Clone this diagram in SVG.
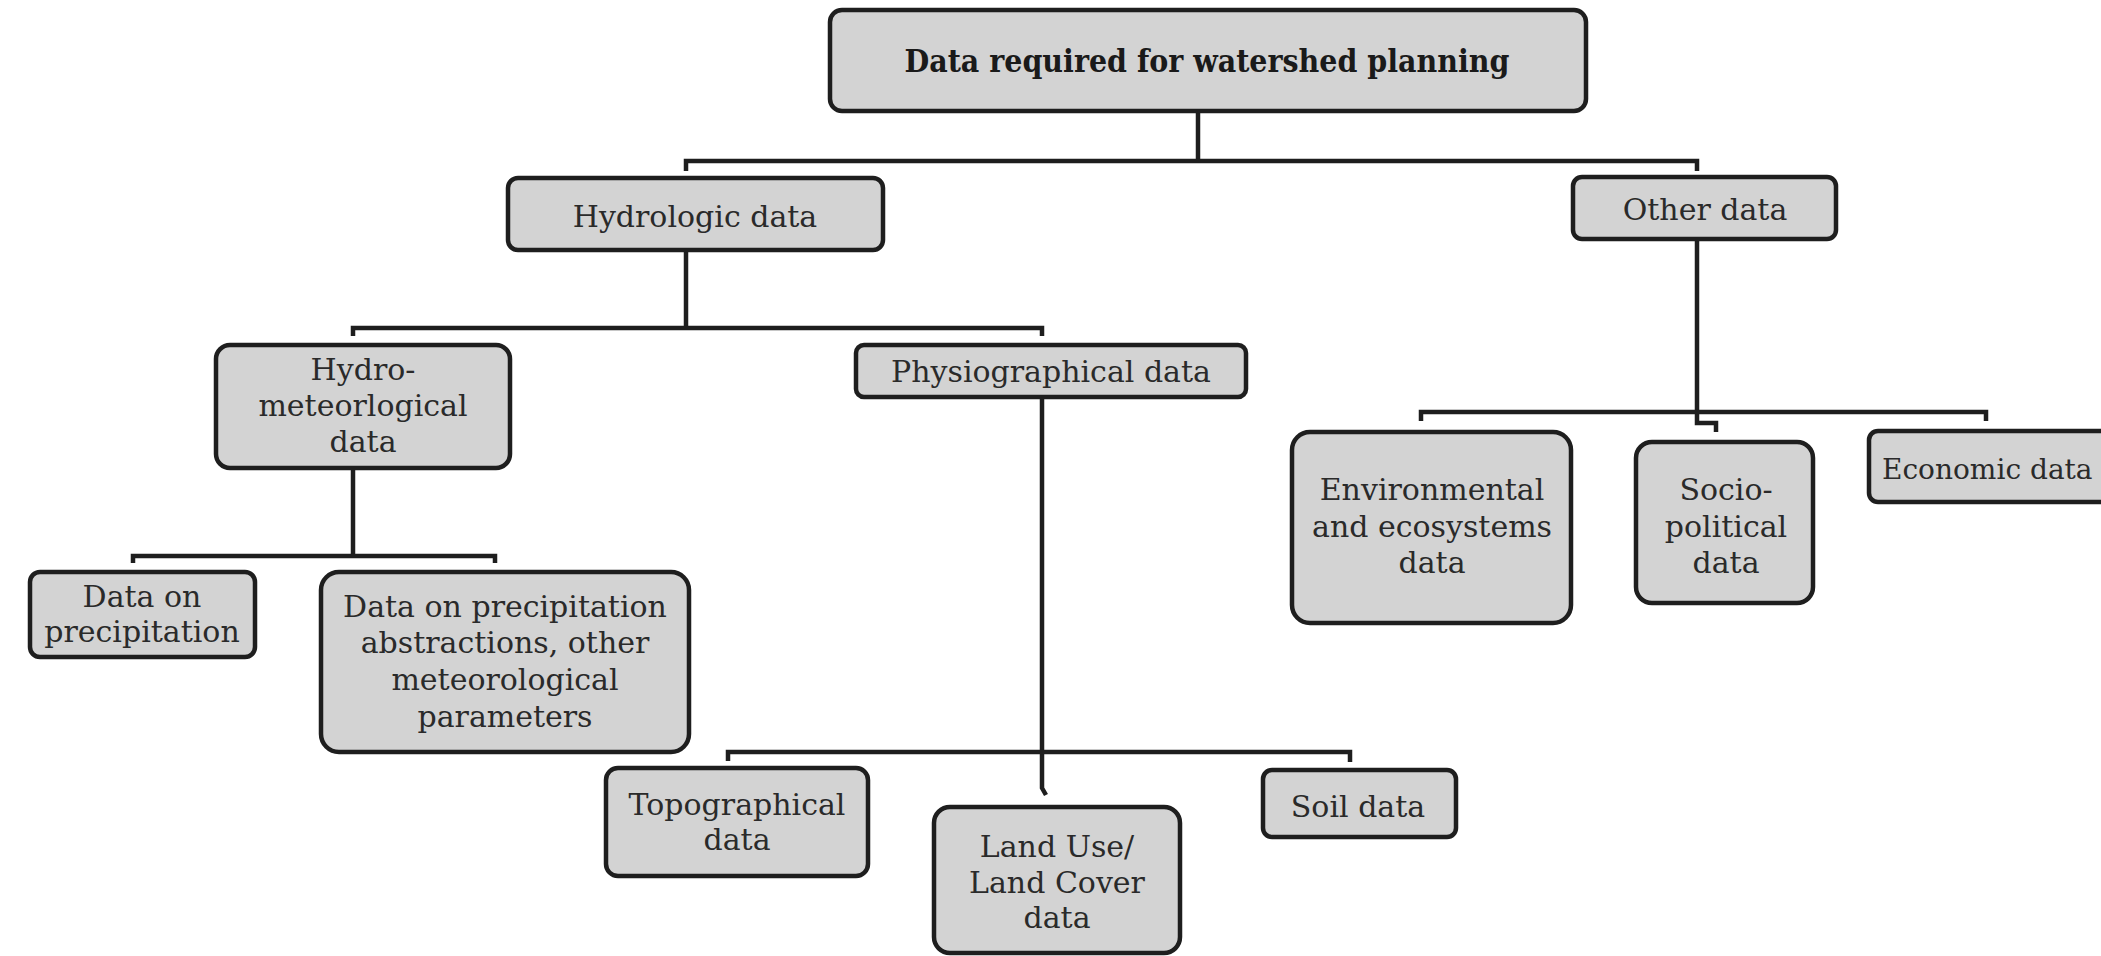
<svg xmlns="http://www.w3.org/2000/svg" width="2101" height="956" viewBox="0 0 2101 956">
<style>
.box{fill:#d3d3d3;stroke:#1e1e1e;stroke-width:4.5}
.t{font-family:"DejaVu Serif","Liberation Serif",serif;font-size:30px;fill:#2a2a2a;text-anchor:middle}
.title{font-family:"DejaVu Serif","Liberation Serif",serif;font-size:31px;font-weight:bold;fill:#1a1a1a;text-anchor:middle}
.c{fill:none;stroke:#1e1e1e;stroke-width:4.5;stroke-linejoin:miter}
</style>
<rect width="2101" height="956" fill="#ffffff"/>
<g id="connectors">
<path class="c" d="M1198,112 V161"/>
<path class="c" d="M686,171 V161 H1697 V171"/>
<path class="c" d="M686,250 V328"/>
<path class="c" d="M353,336 V328 H1042 V336"/>
<path class="c" d="M353,468 V556"/>
<path class="c" d="M133,563 V556 H495 V563"/>
<path class="c" d="M1042,397 V788 L1046,795"/>
<path class="c" d="M728,761 V752 H1350 V762"/>
<path class="c" d="M1697,239 V423 H1716 V432"/>
<path class="c" d="M1421,421 V412 H1986 V421"/>
</g>
<g id="n-root">
<rect class="box" x="830" y="10" width="756" height="101" rx="12"/>
<text class="title" x="1207" y="72" textLength="605" lengthAdjust="spacingAndGlyphs">Data required for watershed planning</text>
</g>
<g id="n-hydrologic">
<rect class="box" x="508" y="178" width="375" height="72" rx="10"/>
<text class="t" x="695" y="227">Hydrologic data</text>
</g>
<g id="n-other">
<rect class="box" x="1573" y="177" width="263" height="62" rx="9"/>
<text class="t" x="1705" y="220">Other data</text>
</g>
<g id="n-hydromet">
<rect class="box" x="216" y="345" width="294" height="123" rx="14"/>
<text class="t" x="363" y="380">Hydro-</text>
<text class="t" x="363" y="416">meteorlogical</text>
<text class="t" x="363" y="452">data</text>
</g>
<g id="n-physio">
<rect class="box" x="856" y="345" width="390" height="52" rx="8"/>
<text class="t" x="1051" y="382">Physiographical data</text>
</g>
<g id="n-precip">
<rect class="box" x="30" y="572" width="225" height="85" rx="10"/>
<text class="t" x="142" y="607">Data on</text>
<text class="t" x="142" y="642">precipitation</text>
</g>
<g id="n-abstractions">
<rect class="box" x="321" y="572" width="368" height="180" rx="18"/>
<text class="t" x="505" y="617">Data on precipitation</text>
<text class="t" x="505" y="653">abstractions, other</text>
<text class="t" x="505" y="690">meteorological</text>
<text class="t" x="505" y="727">parameters</text>
</g>
<g id="n-topo">
<rect class="box" x="606" y="768" width="262" height="108" rx="12"/>
<text class="t" x="737" y="815">Topographical</text>
<text class="t" x="737" y="850">data</text>
</g>
<g id="n-landuse">
<rect class="box" x="934" y="807" width="246" height="146" rx="16"/>
<text class="t" x="1057" y="857">Land Use/</text>
<text class="t" x="1057" y="893">Land Cover</text>
<text class="t" x="1057" y="928">data</text>
</g>
<g id="n-soil">
<rect class="box" x="1263" y="770" width="193" height="67" rx="9"/>
<text class="t" x="1358" y="817">Soil data</text>
</g>
<g id="n-env">
<rect class="box" x="1292" y="432" width="279" height="191" rx="18"/>
<text class="t" x="1432" y="500">Environmental</text>
<text class="t" x="1432" y="537">and ecosystems</text>
<text class="t" x="1432" y="573">data</text>
</g>
<g id="n-socio">
<rect class="box" x="1636" y="442" width="177" height="161" rx="16"/>
<text class="t" x="1726" y="500">Socio-</text>
<text class="t" x="1726" y="537">political</text>
<text class="t" x="1726" y="573">data</text>
</g>
<g id="n-economic">
<rect class="box" x="1869" y="431" width="250" height="71" rx="9"/>
<text class="t" x="1882" y="479" style="text-anchor:start;font-size:28px">Economic data</text>
</g>
</svg>
